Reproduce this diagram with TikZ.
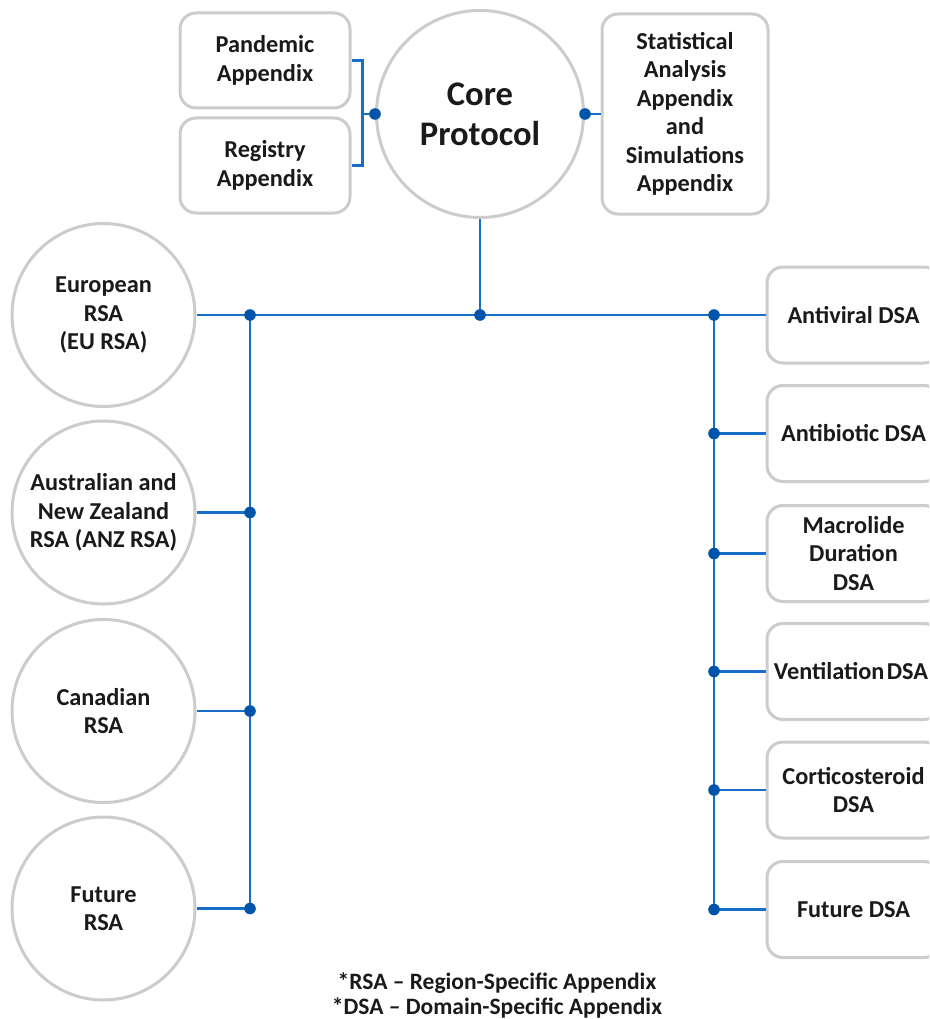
\documentclass[tikz,border=0pt]{standalone}
\usepackage{fontspec}
\setmainfont{Carlito}
\begin{document}
\begin{tikzpicture}[x=1pt,y=-1pt,
  every node/.style={text=txt, font=\bfseries\fontsize{24.3}{28.5}\selectfont, align=center, inner sep=0pt},
  rsa/.style={circle, draw=edgegray, line width=3pt, fill=white, minimum size=183pt},
  dsa/.style={rectangle, rounded corners=16pt, draw=edgegray, line width=3pt, fill=white, minimum width=173pt, minimum height=96pt},
  app/.style={rectangle, rounded corners=16pt, draw=edgegray, line width=3pt, fill=white, minimum width=170pt, minimum height=95pt},
  link/.style={draw=lineblue, line width=2.2pt},
  dot/.style={fill=dotblue, draw=none}
]
\definecolor{edgegray}{RGB}{204,204,204}
\definecolor{lineblue}{RGB}{22,110,200}
\definecolor{dotblue}{RGB}{0,84,170}
\definecolor{txt}{RGB}{26,26,26}
\useasboundingbox (0,0) rectangle (929,1019);
\clip (0,0) rectangle (929,1019);
\fill[white] (0,0) rectangle (929,1019);

% core protocol and its appendices
\node[circle, draw=edgegray, line width=3pt, fill=white, minimum size=207pt,
      font=\bfseries\fontsize{34.5}{40}\selectfont] (core) at (480,114) {Core\\Protocol};
\node[app] (pand) at (265,60.5) {Pandemic\\Appendix};
\node[app] (reg) at (265,165.5) {Registry\\Appendix};
\node[app, minimum width=166pt, minimum height=200pt] (stat) at (685,114) {Statistical\\Analysis\\Appendix\\and\\Simulations\\Appendix};

% region-specific appendices
\node[rsa] (eu)  at (103.5,315)   {European\\RSA\\(EU RSA)};
\node[rsa] (anz) at (103.5,512.5) {Australian and\\New Zealand\\RSA (ANZ RSA)};
\node[rsa] (can) at (103.5,711)   {Canadian\\RSA};
\node[rsa] (fut) at (103.5,908.5) {Future\\RSA};

% domain-specific appendices
\node[dsa] (antiv) at (853.5,315)   {Antiviral DSA};
\node[dsa] (antib) at (853.5,433.5) {Antibiotic DSA};
\node[dsa] (macro) at (853.5,553.5) {Macrolide\\Duration\\DSA};
\node[dsa] (vent)  at (853.5,671.5) {};
\node (ventlabel) at ([xshift=-2.5pt]vent.center) {Ventilation\hspace{2.5pt}DSA};
\node[dsa] (cort)  at (853.5,790)   {Corticosteroid\\DSA};
\node[dsa] (futd)  at (853.5,909.5) {Future DSA};

% junction points
\coordinate (brk) at (361,114);
\coordinate (jC) at (480,315);
\coordinate (jL0) at (250,315);
\coordinate (jL1) at (250,512.5);
\coordinate (jL2) at (250,711);
\coordinate (jL3) at (250,908.5);
\coordinate (jR0) at (714,315);
\coordinate (jR1) at (714,433.5);
\coordinate (jR2) at (714,553.5);
\coordinate (jR3) at (714,671.5);
\coordinate (jR4) at (714,790);
\coordinate (jR5) at (714,909.5);

% connectors
\path[link] (pand.east) -- ++(11,0) |- (reg.east);
\path[link] (brk) -- (core.west);
\path[link] (core.east) -- (stat.west);
\path[link] (core.south) -- (jC);
\path[link] (eu.east) -- (jL0) -- (jC) -- (jR0) -- (antiv.west);
\path[link] (jL0) -- (jL3);
\path[link] (jR0) -- (jR5);
\path[link] (anz.east) -- (jL1);
\path[link] (can.east) -- (jL2);
\path[link] (fut.east) -- (jL3);
\path[link] (jR1) -- (antib.west);
\path[link] (jR2) -- (macro.west);
\path[link] (jR3) -- (vent.west);
\path[link] (jR4) -- (cort.west);
\path[link] (jR5) -- (futd.west);

% dots
\foreach \p in {core.west, core.east, jC, jL0, jL1, jL2, jL3, jR0, jR1, jR2, jR3, jR4, jR5}
  \fill[dot] (\p) circle (5.8pt);

% legend
\node (legend) at (497,995) [font=\bfseries\fontsize{23.5}{25}\selectfont]
  {*RSA -- Region-Specific Appendix\\*DSA -- Domain-Specific Appendix};
\end{tikzpicture}
\end{document}
